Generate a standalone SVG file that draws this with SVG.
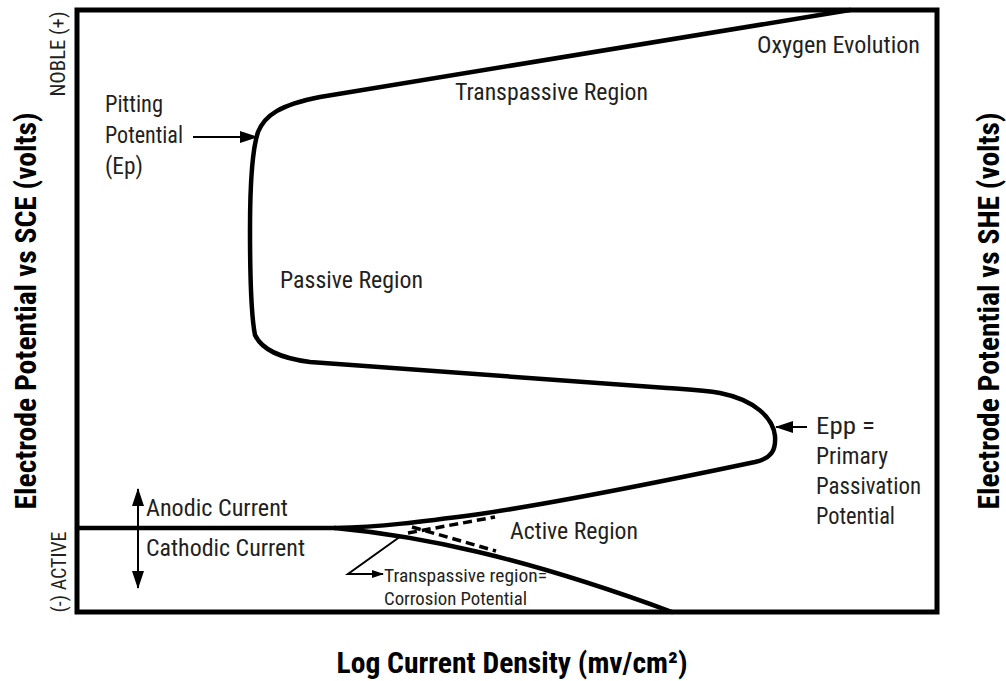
<svg xmlns="http://www.w3.org/2000/svg" width="1006" height="681" viewBox="0 0 1006 681">
<style>
.lbl{font-family:"Liberation Sans Narrow","Roboto Condensed","Liberation Sans",Arial,sans-serif;font-size:23px;fill:#231f20}
.sm{font-family:"Liberation Sans Narrow","Roboto Condensed","Liberation Sans",Arial,sans-serif;font-size:18px;fill:#231f20}
.ax{font-family:"Liberation Sans Narrow","Roboto Condensed","Liberation Sans",Arial,sans-serif;font-size:30px;font-weight:bold;fill:#000}
.tick{font-family:"Liberation Sans Narrow","Roboto Condensed","Liberation Sans",Arial,sans-serif;font-size:20px;fill:#231f20}
.curve{fill:none;stroke:#000;stroke-width:4.5;stroke-linecap:round;stroke-linejoin:round}
.ptr{fill:none;stroke:#000;stroke-width:2}
.dash{fill:none;stroke:#000;stroke-width:3.5;stroke-dasharray:9 5}
</style>
<defs>
<marker id="ah" markerUnits="userSpaceOnUse" markerWidth="18" markerHeight="12" refX="17" refY="6" orient="auto-start-reverse" viewBox="0 0 18 12">
<path d="M0 0 L18 6 L0 12 Z" fill="#000"/>
</marker>
<marker id="ahs" markerUnits="userSpaceOnUse" markerWidth="12" markerHeight="8" refX="11" refY="4" orient="auto" viewBox="0 0 12 8">
<path d="M0 0 L12 4 L0 8 Z" fill="#000"/>
</marker>
</defs>
<rect width="1006" height="681" fill="#fff"/>
<g id="frame">
<rect x="77" y="10" width="860" height="602" fill="none" stroke="#000" stroke-width="5"/>
</g>
<g id="connectors">
<path class="curve" d="M77 528 L335 528"/>
<path id="anodic-curve" class="curve" d="M335 528 C380 527 420 522 480 514 C560 502 660 482 755 462 C772 458 776 450 775 436 C773 418 755 400 720 393 C703 390 690 389.6 667 388 L310 362 C280 358 262 350 255 335 C252 320 250 280 250 230 C250 180 252 150 258 132 C265 115 280 105 320 97 L850 10"/>
<path id="cathodic-curve" class="curve" d="M335 528 C420 536 520 556 672 612"/>
<path class="dash" d="M408 533 L495 517"/>
<path class="dash" d="M412 527 L496 551"/>
<path class="ptr" d="M401 536 L348 574 L383 574" marker-end="url(#ahs)"/>
<path class="ptr" d="M138 489 L138 588" marker-start="url(#ah)" marker-end="url(#ah)"/>
<path class="ptr" d="M193 137 L257 137" marker-end="url(#ah)"/>
<path class="ptr" d="M807 427 L776 427" marker-end="url(#ah)"/>
</g>
<g id="pitting">
<text class="lbl" x="105" y="112" textLength="58" lengthAdjust="spacingAndGlyphs">Pitting</text>
<text class="lbl" x="105" y="143" textLength="78" lengthAdjust="spacingAndGlyphs">Potential</text>
<text class="lbl" x="105" y="174" textLength="38" lengthAdjust="spacingAndGlyphs">(Ep)</text>
</g>
<g id="transpassive">
<text class="lbl" x="455" y="100" textLength="193" lengthAdjust="spacingAndGlyphs">Transpassive Region</text>
</g>
<g id="oxygen">
<text class="lbl" x="757" y="53" textLength="163" lengthAdjust="spacingAndGlyphs">Oxygen Evolution</text>
</g>
<g id="passive">
<text class="lbl" x="280" y="288" textLength="143" lengthAdjust="spacingAndGlyphs">Passive Region</text>
</g>
<g id="epp">
<text class="lbl" x="816" y="434" textLength="59" lengthAdjust="spacingAndGlyphs">Epp =</text>
<text class="lbl" x="816" y="464" textLength="72" lengthAdjust="spacingAndGlyphs">Primary</text>
<text class="lbl" x="816" y="494" textLength="105" lengthAdjust="spacingAndGlyphs">Passivation</text>
<text class="lbl" x="816" y="524" textLength="79" lengthAdjust="spacingAndGlyphs">Potential</text>
</g>
<g id="anodic">
<text class="lbl" x="146" y="516" textLength="142" lengthAdjust="spacingAndGlyphs">Anodic Current</text>
</g>
<g id="cathodic">
<text class="lbl" x="146" y="556" textLength="159" lengthAdjust="spacingAndGlyphs">Cathodic Current</text>
</g>
<g id="active">
<text class="lbl" x="510" y="539" textLength="128" lengthAdjust="spacingAndGlyphs">Active Region</text>
</g>
<g id="corrosion">
<text class="sm" x="384" y="582" textLength="163" lengthAdjust="spacingAndGlyphs">Transpassive region=</text>
<text class="sm" x="384" y="605" textLength="143" lengthAdjust="spacingAndGlyphs">Corrosion Potential</text>
</g>
<g id="axis-labels">
<text class="ax" x="512" y="673" text-anchor="middle" textLength="351" lengthAdjust="spacingAndGlyphs">Log Current Density (mv/cm²)</text>
<text class="ax" transform="translate(36 311) rotate(-90)" text-anchor="middle" textLength="397" lengthAdjust="spacingAndGlyphs">Electrode Potential vs SCE (volts)</text>
<text class="ax" transform="translate(999 311) rotate(-90)" text-anchor="middle" textLength="397" lengthAdjust="spacingAndGlyphs">Electrode Potential vs SHE (volts)</text>
<text class="tick" transform="translate(65 54) rotate(-90)" text-anchor="middle" textLength="85" lengthAdjust="spacingAndGlyphs">NOBLE (+)</text>
<text class="tick" transform="translate(66 572) rotate(-90)" text-anchor="middle" textLength="81" lengthAdjust="spacingAndGlyphs">(-) ACTIVE</text>
</g>
</svg>
